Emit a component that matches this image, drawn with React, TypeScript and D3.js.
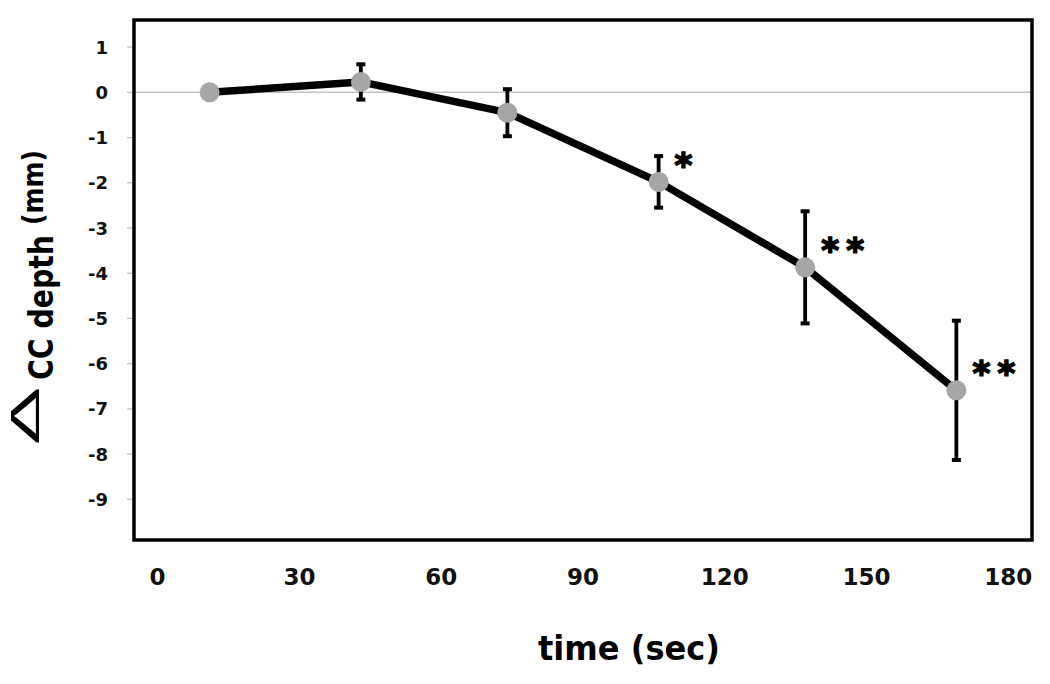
import React from "react";
import * as d3 from "d3";

const times = [11, 43, 74, 106, 137, 169];
const depthChange = [0, 0.23, -0.45, -1.98, -3.87, -6.59];
const errors = [0, 0.39, 0.52, 0.57, 1.24, 1.54];
const significance = ["", "", "", "*", "**", "**"];
const xTicks = [0, 30, 60, 90, 120, 150, 180];
const yTicks = [1, 0, -1, -2, -3, -4, -5, -6, -7, -8, -9];

const W = 1050;
const H = 684;
const left = 134, right = 1032, top = 20, bottom = 540;

export default function App() {
  const x = d3.scaleLinear().domain([-5, 185]).range([left, right]);
  const y = d3.scaleLinear().domain([-9.9, 1.6]).range([bottom, top]);
  const pts = times.map((t, i) => ({ t, v: depthChange[i], e: errors[i], s: significance[i] }));
  const line = d3.line<any>().x((d) => x(d.t)).y((d) => y(d.v));
  const font = "'DejaVu Sans', Verdana, sans-serif";

  return (
    <svg width={W} height={H} style={{ position: "absolute", left: 0, top: 0, background: "#fff" }}>
      <rect x={0} y={0} width={W} height={H} fill="#fff" />
      {/* zero gridline */}
      <line x1={left} x2={right} y1={y(0)} y2={y(0)} stroke="#c4c4c4" strokeWidth={1.5} />
      {/* y tick marks & labels */}
      {yTicks.map((v) => (
        <g key={v}>
          <line x1={left - 7} x2={left} y1={y(v)} y2={y(v)} stroke="#bdbdbd" strokeWidth={1.2} />
          <text x={108} y={y(v) + 6.5} textAnchor="end" fontFamily={font} fontWeight="bold" fontSize={18} fill="#111">
            {v}
          </text>
        </g>
      ))}
      {/* x labels */}
      {xTicks.map((t) => (
        <text key={t} x={x(t)} y={585} textAnchor="middle" fontFamily={font} fontWeight="bold" fontSize={23} fill="#111">
          {t}
        </text>
      ))}
      {/* data line */}
      <path d={line(pts) || ""} fill="none" stroke="#000" strokeWidth={7.5} strokeLinejoin="round" />
      {/* error bars */}
      {pts.filter((p) => p.e > 0).map((p, i) => (
        <g key={i}>
          <line x1={x(p.t)} x2={x(p.t)} y1={y(p.v + p.e)} y2={y(p.v - p.e)} stroke="#000" strokeWidth={3.8} />
          <line x1={x(p.t) - 4.5} x2={x(p.t) + 4.5} y1={y(p.v + p.e)} y2={y(p.v + p.e)} stroke="#000" strokeWidth={4} />
          <line x1={x(p.t) - 4.5} x2={x(p.t) + 4.5} y1={y(p.v - p.e)} y2={y(p.v - p.e)} stroke="#000" strokeWidth={4} />
        </g>
      ))}
      {/* markers */}
      {pts.map((p, i) => (
        <circle key={i} cx={x(p.t)} cy={y(p.v)} r={10} fill="#a6a6a6" />
      ))}
      {/* significance stars */}
      {pts.map((p, i) =>
        p.s.split("").map((c, j) => (
          <text
            key={i + "-" + j}
            x={x(p.t) + 16 + j * 25}
            y={y(p.v) - 24 + 0.55 * 34}
            fontFamily={font}
            fontWeight="bold"
            fontSize={34}
            fill="#000"
            stroke="#000"
            strokeWidth={1.6}
          >
            {c}
          </text>
        ))
      )}
      {/* frame */}
      <rect x={left} y={top} width={right - left} height={bottom - top} fill="none" stroke="#000" strokeWidth={3.5} />
      {/* y axis title */}
      <text transform="translate(39,445) rotate(-90)" fontFamily="'Liberation Sans', Arial, sans-serif" fontSize={40} textLength={58} lengthAdjust="spacingAndGlyphs" fill="#000">
        Δ
      </text>
      <text transform="translate(53,380) rotate(-90)" fontFamily={font} fontWeight="bold" fontSize={34} textLength={145} lengthAdjust="spacingAndGlyphs" fill="#000">
        CC depth
      </text>
      <text transform="translate(43,225) rotate(-90)" fontFamily={font} fontWeight="bold" fontSize={28} textLength={75} lengthAdjust="spacingAndGlyphs" fill="#000">
        (mm)
      </text>
      {/* x axis title */}
      <text x={538} y={660} fontFamily={font} fontWeight="bold" fontSize={34} textLength={182} lengthAdjust="spacingAndGlyphs" fill="#000">
        time (sec)
      </text>
    </svg>
  );
}
